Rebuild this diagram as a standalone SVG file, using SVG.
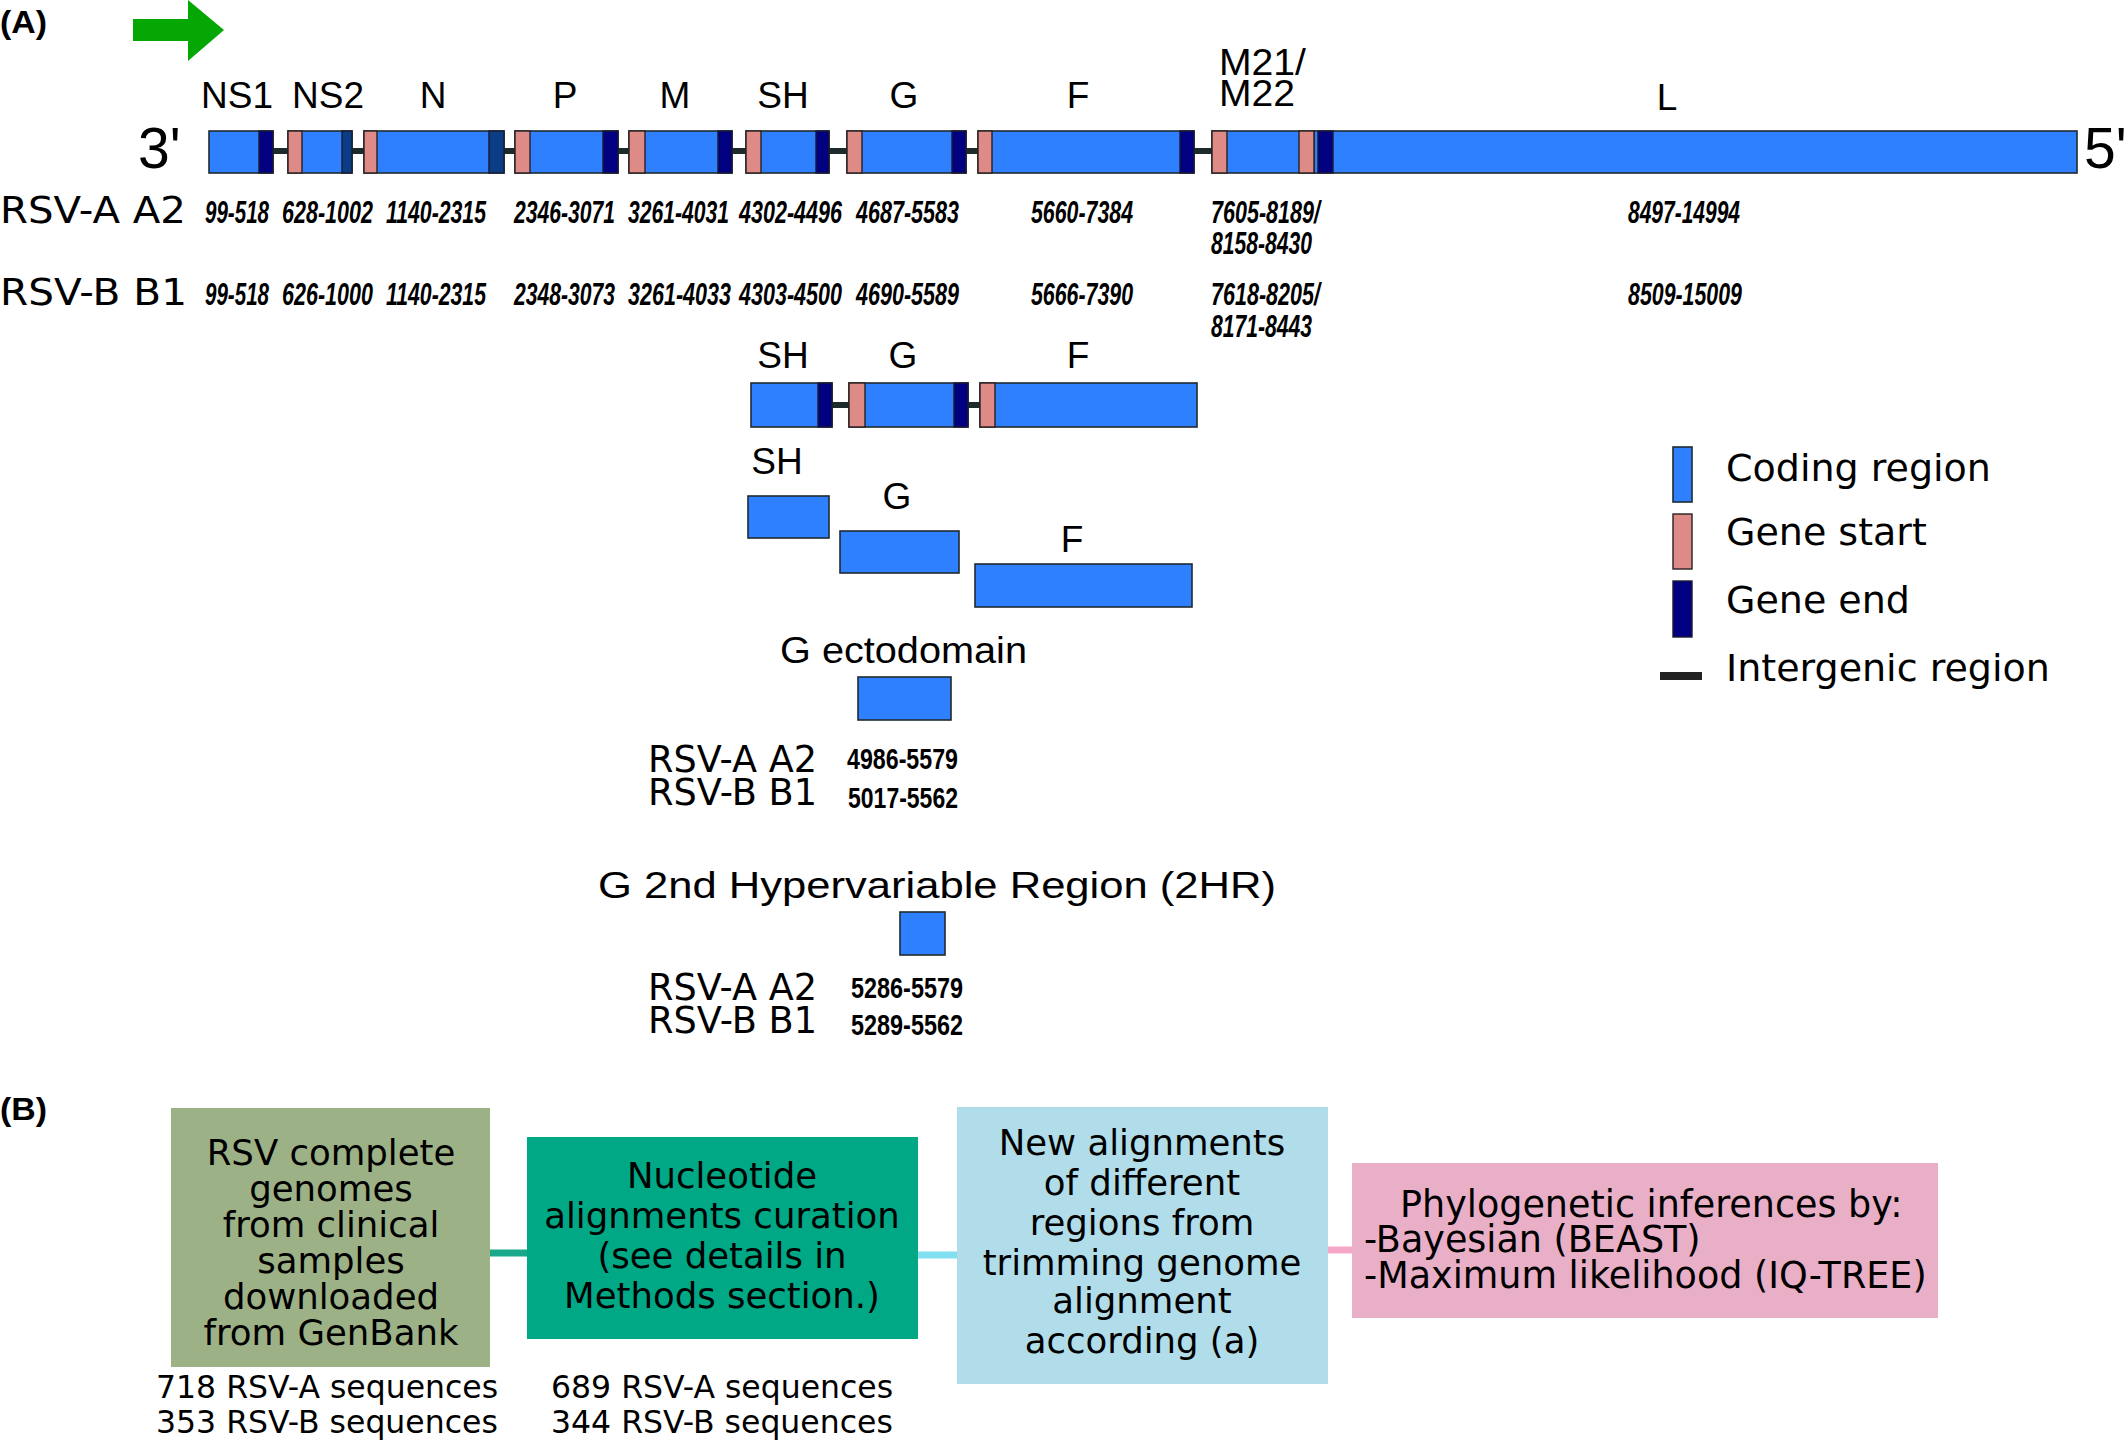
<svg xmlns="http://www.w3.org/2000/svg" width="2128" height="1442" viewBox="0 0 2128 1442">
<style>
.cod{fill:#2e80ff;stroke:#1e2a30;stroke-width:1.6}
.gs{fill:#de8a87;stroke:#2a2020;stroke-width:1.4}
.ge{fill:#000080;stroke:#1a1a30;stroke-width:1.4}
.ge2{fill:#0b3c86;stroke:#1a1a30;stroke-width:1.4}
.ig{stroke:#1c2a2c;stroke-width:6}
.lab{font-family:"Liberation Sans",Arial,sans-serif;font-size:37px;fill:#000}
.pr{font-family:"Liberation Sans",Arial,sans-serif;font-size:57px;fill:#000}
.num{font-family:"Liberation Sans Narrow","Liberation Sans",Arial,sans-serif;font-size:31px;font-weight:bold;font-style:italic;fill:#000}
.num2{font-family:"Liberation Sans Narrow","Liberation Sans",Arial,sans-serif;font-size:30px;font-weight:bold;fill:#000}
.str{font-family:"DejaVu Sans",Verdana,sans-serif;font-size:37px;fill:#000}
.leg{font-family:"DejaVu Sans",Verdana,sans-serif;font-size:38px;fill:#000}
.bt{font-family:"DejaVu Sans",Verdana,sans-serif;font-size:35.5px;fill:#000}
.sq{font-family:"DejaVu Sans",Verdana,sans-serif;font-size:31.5px;fill:#000}
.pl{font-family:"Liberation Sans",Arial,sans-serif;font-size:31px;font-weight:bold;fill:#000}
</style>
<rect width="2128" height="1442" fill="#fff"/>

<text class="pl" x="0" y="33" textLength="47" lengthAdjust="spacingAndGlyphs">(A)</text>
<polygon id="direction-arrow" points="133,19 188,19 188,0 224,30 188,61 188,41 133,41" fill="#05a705"/>

<!-- gene labels -->
<g id="gene-labels" class="lab" text-anchor="middle">
<text x="237" y="108">NS1</text>
<text x="328" y="108">NS2</text>
<text x="433" y="108">N</text>
<text x="565" y="108">P</text>
<text x="675" y="108">M</text>
<text x="783" y="108">SH</text>
<text x="904" y="108">G</text>
<text x="1078" y="108">F</text>
<text x="1219" y="75" text-anchor="start" textLength="87" lengthAdjust="spacingAndGlyphs">M21/</text>
<text x="1219" y="106" text-anchor="start" textLength="76" lengthAdjust="spacingAndGlyphs">M22</text>
<text x="1667" y="110">L</text>
</g>
<text class="pr" x="138" y="168">3'</text>
<text class="pr" x="2084" y="168">5'</text>

<!-- intergenic regions main genome -->
<g id="intergenic-main">
<line class="ig" x1="273" y1="151" x2="1212" y2="151"/>
</g>

<g id="gene-NS1"><rect class="cod" x="209" y="131" width="64" height="42"/><rect class="ge" x="259" y="131" width="14" height="42"/></g>
<g id="gene-NS2"><rect class="cod" x="288" y="131" width="64" height="42"/><rect class="gs" x="288" y="131" width="14" height="42"/><rect class="ge2" x="342" y="131" width="10" height="42"/></g>
<g id="gene-N"><rect class="cod" x="364" y="131" width="140" height="42"/><rect class="gs" x="364" y="131" width="13" height="42"/><rect class="ge2" x="489" y="131" width="15" height="42"/></g>
<g id="gene-P"><rect class="cod" x="515" y="131" width="103" height="42"/><rect class="gs" x="515" y="131" width="15" height="42"/><rect class="ge" x="603" y="131" width="15" height="42"/></g>
<g id="gene-M"><rect class="cod" x="629" y="131" width="103" height="42"/><rect class="gs" x="629" y="131" width="16" height="42"/><rect class="ge" x="718" y="131" width="14" height="42"/></g>
<g id="gene-SH"><rect class="cod" x="746" y="131" width="83" height="42"/><rect class="gs" x="746" y="131" width="15" height="42"/><rect class="ge" x="816" y="131" width="13" height="42"/></g>
<g id="gene-G"><rect class="cod" x="847" y="131" width="119" height="42"/><rect class="gs" x="847" y="131" width="15" height="42"/><rect class="ge" x="952" y="131" width="14" height="42"/></g>
<g id="gene-F"><rect class="cod" x="978" y="131" width="216" height="42"/><rect class="gs" x="978" y="131" width="14" height="42"/><rect class="ge" x="1180" y="131" width="14" height="42"/></g>
<g id="gene-M2"><rect class="cod" x="1212" y="131" width="103" height="42"/><rect class="gs" x="1212" y="131" width="15" height="42"/></g>
<g id="gene-L"><rect class="cod" x="1314" y="131" width="763" height="42"/><rect class="gs" x="1299" y="131" width="15" height="42"/><rect class="ge" x="1318" y="131" width="15" height="42"/></g>

<!-- strain rows -->
<text class="str" x="0" y="223" textLength="186" lengthAdjust="spacingAndGlyphs">RSV-A A2</text>
<text class="str" x="0" y="305" textLength="187" lengthAdjust="spacingAndGlyphs">RSV-B B1</text>

<g id="coords-A" class="num">
<text x="205" y="223" textLength="64" lengthAdjust="spacingAndGlyphs">99-518</text>
<text x="282" y="223" textLength="91" lengthAdjust="spacingAndGlyphs">628-1002</text>
<text x="386" y="223" textLength="100" lengthAdjust="spacingAndGlyphs">1140-2315</text>
<text x="514" y="223" textLength="101" lengthAdjust="spacingAndGlyphs">2346-3071</text>
<text x="628" y="223" textLength="101" lengthAdjust="spacingAndGlyphs">3261-4031</text>
<text x="739" y="223" textLength="103" lengthAdjust="spacingAndGlyphs">4302-4496</text>
<text x="856" y="223" textLength="103" lengthAdjust="spacingAndGlyphs">4687-5583</text>
<text x="1031" y="223" textLength="102" lengthAdjust="spacingAndGlyphs">5660-7384</text>
<text x="1211" y="223" textLength="109" lengthAdjust="spacingAndGlyphs">7605-8189/</text>
<text x="1211" y="254" textLength="101" lengthAdjust="spacingAndGlyphs">8158-8430</text>
<text x="1628" y="223" textLength="112" lengthAdjust="spacingAndGlyphs">8497-14994</text>
</g>
<g id="coords-B" class="num">
<text x="205" y="305" textLength="64" lengthAdjust="spacingAndGlyphs">99-518</text>
<text x="282" y="305" textLength="91" lengthAdjust="spacingAndGlyphs">626-1000</text>
<text x="386" y="305" textLength="100" lengthAdjust="spacingAndGlyphs">1140-2315</text>
<text x="514" y="305" textLength="101" lengthAdjust="spacingAndGlyphs">2348-3073</text>
<text x="628" y="305" textLength="103" lengthAdjust="spacingAndGlyphs">3261-4033</text>
<text x="739" y="305" textLength="103" lengthAdjust="spacingAndGlyphs">4303-4500</text>
<text x="856" y="305" textLength="103" lengthAdjust="spacingAndGlyphs">4690-5589</text>
<text x="1031" y="305" textLength="102" lengthAdjust="spacingAndGlyphs">5666-7390</text>
<text x="1211" y="305" textLength="109" lengthAdjust="spacingAndGlyphs">7618-8205/</text>
<text x="1211" y="337" textLength="101" lengthAdjust="spacingAndGlyphs">8171-8443</text>
<text x="1628" y="305" textLength="114" lengthAdjust="spacingAndGlyphs">8509-15009</text>
</g>

<!-- SH-G-F region -->
<g id="shgf-labels" class="lab" text-anchor="middle">
<text x="783" y="368">SH</text>
<text x="903" y="368">G</text>
<text x="1078" y="368">F</text>
</g>
<g id="intergenic-shgf">
<line class="ig" x1="832" y1="405" x2="980" y2="405"/>
</g>
<g id="shgf-SH"><rect class="cod" x="751" y="383" width="81" height="44"/><rect class="ge" x="818" y="383" width="14" height="44"/></g>
<g id="shgf-G"><rect class="cod" x="849" y="383" width="119" height="44"/><rect class="gs" x="849" y="383" width="16" height="44"/><rect class="ge" x="954" y="383" width="14" height="44"/></g>
<g id="shgf-F"><rect class="cod" x="980" y="383" width="217" height="44"/><rect class="gs" x="980" y="383" width="15" height="44"/></g>

<!-- individual genes -->
<g id="single-SH"><text class="lab" x="777" y="474" text-anchor="middle">SH</text><rect class="cod" x="748" y="496" width="81" height="42"/></g>
<g id="single-G"><text class="lab" x="897" y="509" text-anchor="middle">G</text><rect class="cod" x="840" y="531" width="119" height="42"/></g>
<g id="single-F"><text class="lab" x="1072" y="552" text-anchor="middle">F</text><rect class="cod" x="975" y="564" width="217" height="43"/></g>

<!-- G ectodomain -->
<g id="g-ectodomain">
<text class="lab" x="780" y="663" font-size="38" textLength="247" lengthAdjust="spacingAndGlyphs">G ectodomain</text>
<rect class="cod" x="858" y="677" width="93" height="43"/>
<text class="str" x="648" y="772" font-size="34" textLength="169" lengthAdjust="spacingAndGlyphs">RSV-A A2</text>
<text class="str" x="648" y="805" font-size="34" textLength="169" lengthAdjust="spacingAndGlyphs">RSV-B B1</text>
<text class="num2" x="847" y="769" textLength="111" lengthAdjust="spacingAndGlyphs">4986-5579</text>
<text class="num2" x="848" y="808" textLength="110" lengthAdjust="spacingAndGlyphs">5017-5562</text>
</g>

<!-- G 2HR -->
<g id="g-2hr">
<text class="lab" x="598" y="898" font-size="38" textLength="678" lengthAdjust="spacingAndGlyphs">G 2nd Hypervariable Region (2HR)</text>
<rect class="cod" x="900" y="912" width="45" height="43"/>
<text class="str" x="648" y="1000" font-size="34" textLength="169" lengthAdjust="spacingAndGlyphs">RSV-A A2</text>
<text class="str" x="648" y="1033" font-size="34" textLength="169" lengthAdjust="spacingAndGlyphs">RSV-B B1</text>
<text class="num2" x="851" y="998" textLength="112" lengthAdjust="spacingAndGlyphs">5286-5579</text>
<text class="num2" x="851" y="1035" textLength="112" lengthAdjust="spacingAndGlyphs">5289-5562</text>
</g>

<!-- legend -->
<g id="legend">
<rect class="cod" x="1673" y="447" width="19" height="55"/>
<rect class="gs" x="1673" y="514" width="19" height="55"/>
<rect class="ge" x="1673" y="581" width="19" height="56"/>
<line x1="1660" y1="676" x2="1702" y2="676" stroke="#222" stroke-width="8"/>
<text class="leg" x="1726" y="481">Coding region</text>
<text class="leg" x="1726" y="545">Gene start</text>
<text class="leg" x="1726" y="613">Gene end</text>
<text class="leg" x="1726" y="681">Intergenic region</text>
</g>

<!-- Part B -->
<text class="pl" x="0" y="1120" textLength="47" lengthAdjust="spacingAndGlyphs">(B)</text>

<g id="connectors">
<line x1="490" y1="1253" x2="527" y2="1253" stroke="#19a98a" stroke-width="7"/>
<line x1="918" y1="1255" x2="957" y2="1255" stroke="#80e0f2" stroke-width="7"/>
<line x1="1328" y1="1250" x2="1352" y2="1250" stroke="#f6a6c6" stroke-width="7"/>
</g>

<g id="box-genomes">
<rect x="171" y="1108" width="319" height="259" fill="#9db186"/>
<g class="bt" text-anchor="middle">
<text x="331" y="1165">RSV complete</text>
<text x="331" y="1201">genomes</text>
<text x="331" y="1237">from clinical</text>
<text x="331" y="1273">samples</text>
<text x="331" y="1309">downloaded</text>
<text x="331" y="1345">from GenBank</text>
</g>
<text class="sq" x="156" y="1398">718 RSV-A sequences</text>
<text class="sq" x="156" y="1433">353 RSV-B sequences</text>
</g>

<g id="box-curation">
<rect x="527" y="1137" width="391" height="202" fill="#00a886"/>
<g class="bt" text-anchor="middle">
<text x="722" y="1188">Nucleotide</text>
<text x="722" y="1228">alignments curation</text>
<text x="722" y="1268">(see details in</text>
<text x="722" y="1308">Methods section.)</text>
</g>
<text class="sq" x="551" y="1398">689 RSV-A sequences</text>
<text class="sq" x="551" y="1433">344 RSV-B sequences</text>
</g>

<g id="box-alignments">
<rect x="957" y="1107" width="371" height="277" fill="#b0dde9"/>
<g class="bt" text-anchor="middle">
<text x="1142" y="1155">New alignments</text>
<text x="1142" y="1195">of different</text>
<text x="1142" y="1235">regions from</text>
<text x="1142" y="1275">trimming genome</text>
<text x="1142" y="1313">alignment</text>
<text x="1142" y="1353">according (a)</text>
</g>
</g>

<g id="box-phylogenetics">
<rect x="1352" y="1163" width="586" height="155" fill="#e9afc7"/>
<g class="bt">
<text x="1400" y="1217" font-size="36.5">Phylogenetic inferences by:</text>
<text x="1364" y="1252" font-size="36.5">-Bayesian (BEAST)</text>
<text x="1364" y="1288" font-size="36.5">-Maximum likelihood (IQ-TREE)</text>
</g>
</g>
</svg>
